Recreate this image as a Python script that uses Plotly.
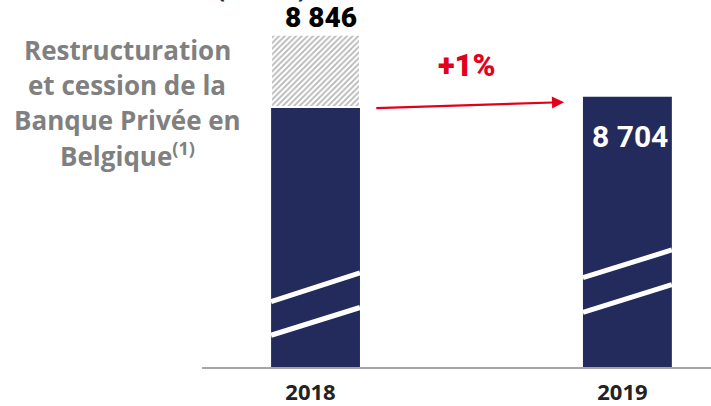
import plotly.graph_objects as go

# ---- data ----
years = ["2018", "2019"]
x_pos = [0, 1]
restated = [8680, 8704]          # navy bars (2018 restated, 2019)
reported_2018 = 8846             # 2018 reported total (hatched top)
value_labels = ["8 846", "8 704"]
growth_label = "+1%"
note_lines = ["Restructuration", "et cession de la", "Banque Privée en", "Belgique<sup>(1)</sup>"]

NAVY = "#232A5C"
RED = "#E3001B"
GREY = "#808080"

W, H = 711, 406
ML, MB = 202, 36
PH = H - MB  # plot height in px
Y_HI, Y_LO = 8926, 8083
BAR_W = 0.285

def px_to_val(p):
    return Y_HI - p * (Y_HI - Y_LO) / PH

fig = go.Figure()

fig.add_trace(go.Bar(
    x=x_pos, y=restated, width=BAR_W,
    marker=dict(color=NAVY, line=dict(width=0)),
    hoverinfo="skip", showlegend=False,
))
fig.add_trace(go.Bar(
    x=[x_pos[0]], y=[reported_2018 - restated[0]], base=[restated[0]], width=BAR_W,
    marker=dict(color="white", line=dict(color="white", width=2),
                pattern=dict(shape="/", fgcolor="#6E6E6E", bgcolor="white", size=4, solidity=0.45)),
    hoverinfo="skip", showlegend=False,
))

# axis-break white lines
breaks = [
    (0, [(304, 275), (338, 310)]),
    (1, [(280, 252), (315, 287)]),
]
for xi, lines in breaks:
    for pl, pr in lines:
        fig.add_shape(type="line", xref="x", yref="y",
                      x0=xi - BAR_W / 2, x1=xi + BAR_W / 2,
                      y0=px_to_val(pl), y1=px_to_val(pr),
                      line=dict(color="white", width=5))

annotations = []
# value labels
annotations.append(dict(x=x_pos[0], y=reported_2018, xref="x", yref="y", text=value_labels[0],
                        showarrow=False, yanchor="middle", yshift=17, xshift=5,
                        font=dict(family="Roboto", size=28, color="black", weight=900)))
annotations.append(dict(x=x_pos[1], y=restated[1], xref="x", yref="y", text=value_labels[1],
                        showarrow=False, yanchor="middle", yshift=-40, xshift=3,
                        font=dict(family="Roboto", size=30, color="white", weight=700)))
# growth label and arrow
annotations.append(dict(x=0.485, y=px_to_val(66), xref="x", yref="y", text=growth_label,
                        showarrow=False, yanchor="middle",
                        font=dict(family="Roboto", size=31, color=RED, weight=900)))
annotations.append(dict(x=0.797, y=px_to_val(103), xref="x", yref="y",
                        ax=0.19, ay=px_to_val(109), axref="x", ayref="y",
                        text="", showarrow=True, arrowhead=2, arrowsize=1.1, arrowwidth=2.2,
                        arrowcolor=RED))
# left note
for i, line in enumerate(note_lines):
    annotations.append(dict(x=0, y=1, xref="paper", yref="paper", text=line, showarrow=False,
                            xanchor="center", yanchor="middle", xshift=127 - ML,
                            yshift=-(50 + 35 * i),
                            font=dict(family="Open Sans", size=26, color=GREY, weight=700)))
# cut-off unit text at the very top
annotations.append(dict(x=0, y=1, xref="paper", yref="paper", text="(en M€)", showarrow=False,
                        xanchor="center", yanchor="bottom", xshift=261 - ML, yshift=-7,
                        font=dict(family="Open Sans", size=24, color=NAVY, weight=700)))

fig.update_layout(
    width=W, height=H,
    margin=dict(l=ML, r=0, t=0, b=MB, pad=0),
    paper_bgcolor="white", plot_bgcolor="white",
    barmode="overlay",
    annotations=annotations,
    xaxis=dict(range=[-0.364, 1.268], tickvals=x_pos, ticktext=years,
               showgrid=False, zeroline=False, showline=True, linecolor="#A6A6A6", linewidth=2,
               ticks="", ticklabelshift=-5, ticklabelstandoff=5,
               tickfont=dict(family="Open Sans", size=22, color="#222222", weight=700)),
    yaxis=dict(range=[Y_LO, Y_HI], visible=False, showgrid=False, zeroline=False),
)

fig.write_html("out.html", config={"displayModeBar": False},
               post_script="document.body.style.margin='0px';document.body.style.overflow='hidden';")
